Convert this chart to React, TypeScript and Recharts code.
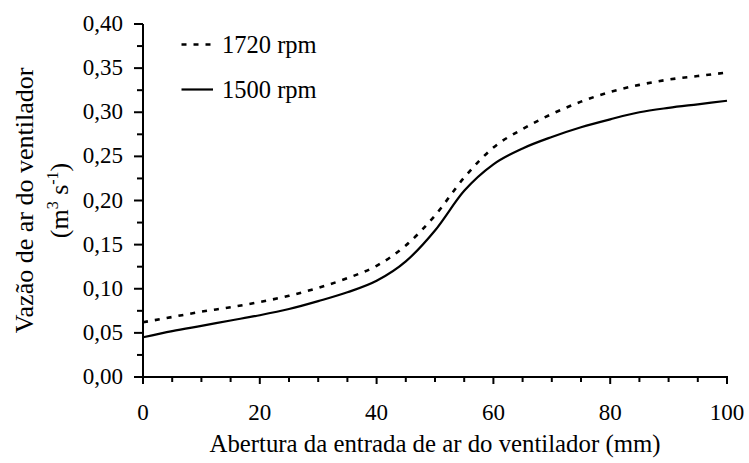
import { LineChart, Line, XAxis, YAxis, Legend } from "recharts";

const FONT = '"Liberation Serif", "Times New Roman", serif';

// abertura da entrada de ar (mm)
const abertura = [0, 5, 10, 15, 20, 25, 30, 35, 40, 45, 50, 55, 60, 65, 70, 75, 80, 85, 90, 95, 100];
// vazão (m3 s-1)
const vazao1720 = [0.062, 0.068, 0.074, 0.079, 0.085, 0.092, 0.101, 0.112, 0.126, 0.149, 0.183, 0.226, 0.26, 0.281, 0.298, 0.312, 0.323, 0.331, 0.337, 0.341, 0.345];
const vazao1500 = [0.045, 0.052, 0.058, 0.064, 0.07, 0.077, 0.086, 0.096, 0.109, 0.131, 0.166, 0.211, 0.241, 0.259, 0.272, 0.283, 0.292, 0.3, 0.305, 0.309, 0.313];

const xTicks = [0, 5, 10, 15, 20, 25, 30, 35, 40, 45, 50, 55, 60, 65, 70, 75, 80, 85, 90, 95, 100];
const yTicks = [0, 0.025, 0.05, 0.075, 0.1, 0.125, 0.15, 0.175, 0.2, 0.225, 0.25, 0.275, 0.3, 0.325, 0.35, 0.375, 0.4];

const series = [
  { key: "r1720", name: "1720 rpm", dash: "5 7", width: 2.6 },
  { key: "r1500", name: "1500 rpm", dash: undefined, width: 2.2 },
];

const data = abertura.map((x, i) => ({ x, r1720: vazao1720[i], r1500: vazao1500[i] }));

const fmt = (v: number) => v.toFixed(2).replace(".", ",");

function YTick(props: any) {
  const { x, y, payload } = props;
  const major = Math.round(payload.value * 1000) % 50 === 0;
  return (
    <g>
      <line x1={x - (major ? 9 : 6)} x2={x} y1={y} y2={y} stroke="#000" strokeWidth={2} />
      {major && (
        <text x={x - 20} y={y + 7} textAnchor="end" fontFamily={FONT} fontSize={23} fill="#000">
          {fmt(payload.value)}
        </text>
      )}
    </g>
  );
}

function XTick(props: any) {
  const { x, y, payload } = props;
  const major = payload.value % 20 === 0;
  return (
    <g>
      <line x1={x} x2={x} y1={y - 1} y2={y + (major ? 7 : 5)} stroke="#000" strokeWidth={2} />
      {major && (
        <text x={x} y={y + 43} textAnchor="middle" fontFamily={FONT} fontSize={23} fill="#000">
          {payload.value}
        </text>
      )}
    </g>
  );
}

function YTitle(props: any) {
  const vb = props.viewBox || { x: 0, y: 24, width: 143, height: 353 };
  const cy = vb.y + vb.height / 2;
  return (
    <g fontFamily={FONT} fontSize={26} fill="#000">
      <text transform={`translate(33, ${cy}) rotate(-90)`} textAnchor="middle">
        Vazão de ar do ventilador
      </text>
      <text transform={`translate(68, ${cy}) rotate(-90)`} textAnchor="middle">
        (m<tspan fontSize={16} dy={-10}>3</tspan>
        <tspan dy={10}> s</tspan>
        <tspan fontSize={16} dy={-10}>-1</tspan>
        <tspan dy={10}>)</tspan>
      </text>
    </g>
  );
}

function XTitle(props: any) {
  const vb = props.viewBox || { x: 143, y: 377, width: 584, height: 86 };
  return (
    <text x={vb.x + vb.width / 2} y={452} textAnchor="middle" fontFamily={FONT} fontSize={24.8} fill="#000">
      Abertura da entrada de ar do ventilador (mm)
    </text>
  );
}

function LegendBox() {
  return (
    <svg width={180} height={80} style={{ display: "block" }}>
      {series.map((s, i) => {
        const y = 19.5 + i * 45;
        return (
          <g key={s.key}>
            <line x1={6.5} x2={s.dash ? 36 : 38} y1={y} y2={y} stroke="#000" strokeWidth={s.width} strokeDasharray={s.dash} />
            <text x={47} y={y + 8} fontFamily={FONT} fontSize={24.5} fill="#000">
              {s.name}
            </text>
          </g>
        );
      })}
    </svg>
  );
}

export default function App() {
  return (
    <div style={{ position: "absolute", left: 0, top: 0, width: 749, height: 463, background: "#fff" }}>
      <LineChart width={749} height={463} data={data} margin={{ top: 24, right: 22, bottom: 0, left: 0 }}>
        <XAxis
          dataKey="x"
          type="number"
          domain={[0, 100]}
          ticks={xTicks}
          interval={0}
          height={86}
          tickSize={0}
          tickMargin={0}
          tickLine={false}
          tick={<XTick />}
          axisLine={{ stroke: "#000", strokeWidth: 2 }}
          label={{ content: XTitle }}
        />
        <YAxis
          type="number"
          domain={[0, 0.4]}
          ticks={yTicks}
          interval={0}
          width={143}
          tickSize={0}
          tickMargin={0}
          tickLine={false}
          tick={<YTick />}
          axisLine={{ stroke: "#000", strokeWidth: 2 }}
          label={{ content: YTitle }}
        />
        <Legend
          layout="horizontal"
          align="center"
          verticalAlign="middle"
          wrapperStyle={{ left: 175, top: 25, width: 180, height: 80 }}
          content={() => <LegendBox />}
        />
        {series.map((s) => (
          <Line
            key={s.key}
            type="monotone"
            dataKey={s.key}
            name={s.name}
            stroke="#000"
            strokeWidth={s.width}
            strokeDasharray={s.dash}
            dot={false}
            activeDot={false}
            isAnimationActive={false}
          />
        ))}
      </LineChart>
    </div>
  );
}
